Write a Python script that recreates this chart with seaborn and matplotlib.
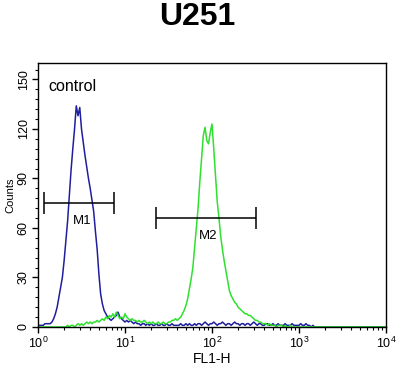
"""
Flow cytometry histogram (U251) - control vs stained overlay.
"""

import matplotlib
matplotlib.use('Agg')
import matplotlib.pyplot as plt
from matplotlib.ticker import MultipleLocator, LogLocator, NullFormatter
import seaborn as sns
import numpy as np
import pandas as pd

# channel grid: 0.02 decade steps from 10^0 to 10^4
fl1_h = np.logspace(0, 4, 201)

# control (blue) counts, one per channel
control_counts = [
    1, 1, 1, 1, 2, 2, 2, 2, 3, 5,
    8, 12, 18, 24, 30, 40, 52, 64, 80, 95,
    108, 120, 134, 128, 133, 120, 112, 104, 97, 90,
    84, 77, 70, 58, 47, 32, 20, 14, 10, 8,
    6, 5, 4, 5, 6, 7, 9, 6, 5, 4,
    3, 4, 3, 4, 3, 2, 3, 2, 2, 1,
    2, 2, 1, 2, 1, 2, 1, 1, 2, 1,
    1, 2, 1, 1, 2, 1, 1, 2, 1, 1,
    1, 1, 2, 1, 1, 2, 1, 2, 1, 1,
    2, 1, 2, 2, 1, 2, 3, 2, 1, 2,
    2, 3, 2, 1, 2, 2, 3, 2, 1, 2,
    2, 1, 2, 3, 2, 2, 1, 2, 2, 1,
    2, 2, 1, 2, 3, 2, 1, 2, 2, 1,
    1, 2, 2, 1, 1, 2, 1, 1, 2, 1,
    1, 1, 2, 1, 1, 1, 2, 1, 1, 1,
    1, 2, 1, 1, 2, 1, 1, 0, 1, 0,
    0, 0, 0, 0, 0, 0, 0, 0, 0, 0,
    0, 0, 0, 0, 0, 0, 0, 0, 0, 0,
    0, 0, 0, 0, 0, 0, 0, 0, 0, 0,
    0, 0, 0, 0, 0, 0, 0, 0, 0, 0,
    0,
]

# antibody stained (green) counts, one per channel
stained_counts = [
    0, 0, 0, 0, 0, 0, 0, 0, 0, 0,
    0, 0, 0, 0, 0, 0, 0, 1, 0, 1,
    1, 0, 1, 2, 1, 2, 1, 2, 3, 2,
    3, 2, 3, 3, 4, 3, 4, 5, 4, 6,
    5, 7, 6, 8, 6, 9, 7, 5, 6, 5,
    8, 6, 5, 4, 5, 4, 4, 3, 4, 3,
    3, 4, 3, 2, 3, 2, 3, 2, 2, 3,
    2, 2, 3, 2, 2, 3, 3, 4, 4, 5,
    4, 5, 6, 8, 10, 13, 17, 23, 29, 36,
    48, 60, 72, 88, 102, 116, 121, 113, 111, 118,
    123, 108, 92, 76, 66, 55, 47, 40, 34, 28,
    22, 19, 17, 15, 14, 12, 11, 10, 9, 8,
    8, 7, 7, 6, 5, 4, 4, 3, 3, 2,
    2, 2, 1, 2, 1, 1, 1, 0, 1, 1,
    1, 0, 1, 0, 0, 1, 0, 0, 0, 0,
    0, 0, 0, 0, 0, 0, 0, 0, 0, 0,
    0, 0, 0, 0, 0, 0, 0, 0, 0, 0,
    0, 0, 0, 0, 0, 0, 0, 0, 0, 0,
    0, 0, 0, 0, 0, 0, 0, 0, 0, 0,
    0, 0, 0, 0, 0, 0, 0, 0, 0, 0,
    0,
]

# marker gates: name, range on FL1-H, level in counts, label position
marker_names = ['M1', 'M2']
marker_lo = [1.17, 23]
marker_hi = [7.5, 320]
marker_level = [75, 66]
marker_label_x = [3.2, 90]
marker_label_y = [64, 55]

df = pd.DataFrame({
    'FL1-H': np.concatenate([fl1_h, fl1_h]),
    'Counts': control_counts + stained_counts,
    'sample': ['control'] * len(fl1_h) + ['stained'] * len(fl1_h),
})

sns.set_style('white')
plt.rcParams['font.family'] = ['Liberation Sans', 'DejaVu Sans']
plt.rcParams.update({
    'text.color': 'black',
    'axes.labelcolor': 'black',
    'xtick.color': 'black',
    'ytick.color': 'black',
})

fig = plt.figure(figsize=(4.0, 3.66), dpi=100)
ax = fig.add_axes([0.095, 0.1066, 0.87, 0.7214])

sns.lineplot(data=df, x='FL1-H', y='Counts', hue='sample',
             palette={'control': '#1f1f9e', 'stained': '#2fe02f'},
             linewidth=1.1, legend=False, ax=ax)

ax.set_xscale('log')
ax.set_xlim(1, 1e4)
ax.set_ylim(0, 160)

# gate markers
for name, lo, hi, lvl, lx, ly in zip(marker_names, marker_lo, marker_hi,
                                     marker_level, marker_label_x, marker_label_y):
    ax.hlines(lvl, lo, hi, color='black', linewidth=1.1)
    ax.vlines([lo, hi], lvl - 6.5, lvl + 6.5, color='black', linewidth=1.1)
    ax.text(lx, ly, name, fontsize=9.5, ha='center', va='center')

ax.text(1.3, 146, 'control', fontsize=11.5, ha='left', va='center')

ax.yaxis.set_major_locator(MultipleLocator(30))
ax.yaxis.set_minor_locator(MultipleLocator(6))
ax.xaxis.set_major_locator(LogLocator(base=10, numticks=10))
ax.xaxis.set_minor_locator(LogLocator(base=10, subs=np.arange(2, 10), numticks=10))
ax.xaxis.set_minor_formatter(NullFormatter())

ax.tick_params(axis='both', which='major', direction='out', length=4, width=1,
               labelsize=9, pad=2, bottom=True, left=True)
ax.tick_params(axis='both', which='minor', direction='out', length=2.5, width=0.8,
               bottom=True, left=True)
for lbl in ax.get_yticklabels():
    lbl.set_rotation(90)
    lbl.set_va('center')

for spine in ax.spines.values():
    spine.set_color('black')
    spine.set_linewidth(1)

ax.set_xlabel('FL1-H', fontsize=10, labelpad=1)
ax.set_ylabel('Counts', fontsize=8, labelpad=2)

fig.text(0.493, 0.953, 'U251', fontsize=23, fontweight='bold',
         ha='center', va='center')

fig.savefig('out.png', dpi=100)
plt.close(fig)
